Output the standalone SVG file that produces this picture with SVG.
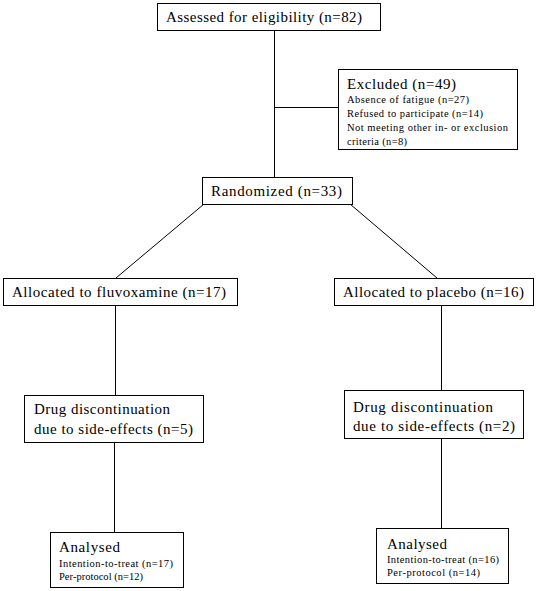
<svg xmlns="http://www.w3.org/2000/svg" width="539" height="591" viewBox="0 0 539 591">
<style>
rect{fill:#fff;stroke:#000;stroke-width:1}
line{stroke:#000;stroke-width:1}
text{font-family:"Liberation Serif","DejaVu Serif",serif;fill:#000}
.t{font-size:15px}
.s{font-size:10.5px}
</style>
<rect x="0" y="0" width="539" height="591" style="stroke:none"/>
<g id="connectors">
<line x1="274.5" y1="30" x2="274.5" y2="177"/>
<line x1="274.5" y1="107.5" x2="338" y2="107.5"/>
<line x1="204" y1="204" x2="116" y2="278"/>
<line x1="350" y1="204" x2="437" y2="278"/>
<line x1="115.5" y1="305" x2="115.5" y2="395"/>
<line x1="114.5" y1="442" x2="114.5" y2="532"/>
<line x1="441.5" y1="305" x2="441.5" y2="390"/>
<line x1="441.5" y1="438" x2="441.5" y2="528"/>
</g>
<g id="assessed">
<rect x="157.5" y="3.5" width="223" height="27"/>
<text class="t" x="166" y="22" textLength="196" lengthAdjust="spacing">Assessed for eligibility (n=82)</text>
</g>
<g id="excluded">
<rect x="338.5" y="69.5" width="179" height="80"/>
<text class="t" x="347" y="89" textLength="109" lengthAdjust="spacing">Excluded (n=49)</text>
<text class="s" x="347" y="103" textLength="122" lengthAdjust="spacing">Absence of fatigue (n=27)</text>
<text class="s" x="347" y="117" textLength="136" lengthAdjust="spacing">Refused to participate (n=14)</text>
<text class="s" x="347" y="131" textLength="161" lengthAdjust="spacing">Not meeting other in- or exclusion</text>
<text class="s" x="347" y="145" textLength="60" lengthAdjust="spacing">criteria (n=8)</text>
</g>
<g id="randomized">
<rect x="202.5" y="177.5" width="150" height="27"/>
<text class="t" x="211" y="196" textLength="131" lengthAdjust="spacing">Randomized (n=33)</text>
</g>
<g id="alloc-fluvoxamine">
<rect x="3.5" y="278.5" width="234" height="27"/>
<text class="t" x="12" y="297" textLength="214" lengthAdjust="spacing">Allocated to fluvoxamine (n=17)</text>
</g>
<g id="alloc-placebo">
<rect x="334.5" y="278.5" width="199" height="27"/>
<text class="t" x="343" y="297" textLength="181" lengthAdjust="spacing">Allocated to placebo (n=16)</text>
</g>
<g id="discont-fluvoxamine">
<rect x="24.5" y="395.5" width="179" height="47"/>
<text class="t" x="34" y="414" textLength="136" lengthAdjust="spacing">Drug discontinuation</text>
<text class="t" x="34" y="434" textLength="159" lengthAdjust="spacing">due to side-effects (n=5)</text>
</g>
<g id="discont-placebo">
<rect x="344.5" y="390.5" width="179" height="48"/>
<text class="t" x="353" y="412" textLength="140" lengthAdjust="spacing">Drug discontinuation</text>
<text class="t" x="353" y="431" textLength="162" lengthAdjust="spacing">due to side-effects (n=2)</text>
</g>
<g id="analysed-fluvoxamine">
<rect x="50.5" y="532.5" width="133" height="55"/>
<text class="t" x="59" y="552" textLength="61" lengthAdjust="spacing">Analysed</text>
<text class="s" x="59" y="567" textLength="114" lengthAdjust="spacing">Intention-to-treat (n=17)</text>
<text class="s" x="59" y="580" textLength="84" lengthAdjust="spacing">Per-protocol (n=12)</text>
</g>
<g id="analysed-placebo">
<rect x="376.5" y="528.5" width="132" height="55"/>
<text class="t" x="387" y="549" textLength="60" lengthAdjust="spacing">Analysed</text>
<text class="s" x="387" y="563" textLength="112" lengthAdjust="spacing">Intention-to-treat (n=16)</text>
<text class="s" x="387" y="576" textLength="93" lengthAdjust="spacing">Per-protocol (n=14)</text>
</g>
</svg>
